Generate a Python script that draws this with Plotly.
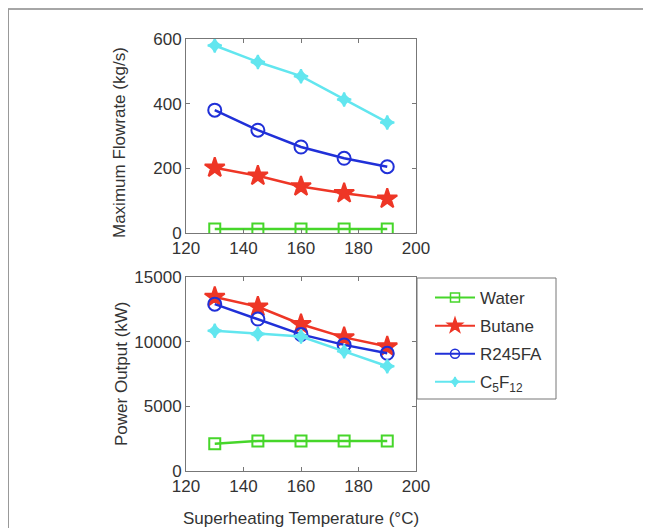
import plotly.graph_objects as go

temps = [130, 145, 160, 175, 190]
names = ["Water", "Butane", "R245FA", "C<sub>5</sub>F<sub>12</sub>"]
flow_water = [12, 12, 12, 12, 12]
flow_butane = [202, 177, 144, 123, 106]
flow_r245fa = [380, 318, 266, 231, 205]
flow_c5f12 = [580, 529, 485, 413, 342]
power_water = [2100, 2320, 2320, 2320, 2320]
power_butane = [13450, 12700, 11350, 10330, 9620]
power_r245fa = [12900, 11750, 10560, 9750, 9100]
power_c5f12 = [10850, 10600, 10400, 9250, 8100]
x_ticks = [120, 140, 160, 180, 200]
flow_ticks = [0, 200, 400, 600]
power_ticks = [0, 5000, 10000, 15000]
power_ticktext = ["0", "5000", "10000", "15000"]

colors = ["#46d62a", "#ee3626", "#2030d8", "#62e6ef"]
symbols = ["square-open", "star", "circle-open", "star-diamond"]
msizes = [11, 15, 13, 10]
leg_sizes = [9, 11, 9, 7]

flows = [flow_water, flow_butane, flow_r245fa, flow_c5f12]
powers = [power_water, power_butane, power_r245fa, power_c5f12]

fig = go.Figure()
for i in range(4):
    mk = dict(symbol=symbols[i], size=msizes[i], color=colors[i],
              line=dict(color=colors[i], width=2))
    fig.add_trace(go.Scatter(x=temps, y=flows[i], mode="lines+markers",
                             line=dict(color=colors[i], width=2.5), marker=mk,
                             showlegend=False, xaxis="x", yaxis="y"))
for i in range(4):
    mk = dict(symbol=symbols[i], size=msizes[i], color=colors[i],
              line=dict(color=colors[i], width=2))
    fig.add_trace(go.Scatter(x=temps, y=powers[i], mode="lines+markers",
                             line=dict(color=colors[i], width=2.5), marker=mk,
                             showlegend=False, xaxis="x2", yaxis="y2"))
# legend entries (smaller legend markers, as in the reference)
for i in range(4):
    mk = dict(symbol=symbols[i], size=leg_sizes[i], color=colors[i],
              line=dict(color=colors[i], width=1.5))
    fig.add_trace(go.Scatter(x=[None], y=[None], mode="lines+markers", name=names[i],
                             legendgroup=f"g{i}",
                             line=dict(color=colors[i], width=2), marker=mk,
                             showlegend=True, xaxis="x2", yaxis="y2"))

# figure is offset by the page's 8px body margin
OFF = 8
W, H = 651 - OFF, 528 - OFF


def px(x):
    return (x - OFF) / W


def py(y):
    return 1 - (y - OFF) / H


axcommon = dict(showgrid=False, zeroline=False, showline=True, linecolor="#777777",
                linewidth=1, mirror="ticks", ticks="inside", ticklen=4,
                tickcolor="#777777", tickfont=dict(size=17, color="#333333"),
                automargin=False)
font = "Liberation Sans, Arial, sans-serif"
tfont = dict(size=17, color="#333333", family=font)

fig.update_layout(
    width=W, height=H,
    margin=dict(l=0, r=0, t=0, b=0),
    paper_bgcolor="white", plot_bgcolor="white",
    font=dict(family=font, color="#333333"),
    xaxis=dict(domain=[px(186), px(416)], range=[120, 200], tickvals=x_ticks, anchor="y", **axcommon),
    yaxis=dict(domain=[py(233), py(39)], range=[0, 600], tickvals=flow_ticks,
               anchor="x", **axcommon),
    xaxis2=dict(domain=[px(186), px(416)], range=[120, 200], tickvals=x_ticks, anchor="y2", **axcommon),
    yaxis2=dict(domain=[py(471), py(277)], range=[0, 15000], tickvals=power_ticks,
                ticktext=power_ticktext, anchor="x2", **axcommon),
    legend=dict(x=px(430), y=py(280), xanchor="left", yanchor="top",
                borderwidth=0, bgcolor="rgba(0,0,0,0)",
                font=dict(size=17, color="#333333"), tracegroupgap=3,
                itemwidth=40),
    showlegend=True,
)

# legend frame
fig.add_shape(type="rect", xref="paper", yref="paper", x0=px(417), x1=px(556),
              y0=py(399), y1=py(278), line=dict(color="#777777", width=1),
              fillcolor="white", layer="below")

fig.add_annotation(text="Maximum Flowrate (kg/s)", xref="paper", yref="paper",
                   x=px(120), y=py(143), textangle=-90, showarrow=False,
                   xanchor="center", yanchor="middle", font=tfont)
fig.add_annotation(text="Power Output (kW)", xref="paper", yref="paper",
                   x=px(121), y=py(373), textangle=-90, showarrow=False,
                   xanchor="center", yanchor="middle", font=tfont)
fig.add_annotation(text="Superheating Temperature (°C)", xref="paper", yref="paper",
                   x=px(301), y=py(518), showarrow=False,
                   xanchor="center", yanchor="middle", font=tfont)

# outer frame lines
fig.add_shape(type="line", xref="paper", yref="paper", x0=px(8), x1=1, y0=py(9), y1=py(9),
              line=dict(color="#888888", width=1.5))
fig.add_shape(type="line", xref="paper", yref="paper", x0=px(8.5), x1=px(8.5), y0=0, y1=py(9),
              line=dict(color="#999999", width=1))

fig.write_html("out.html")
